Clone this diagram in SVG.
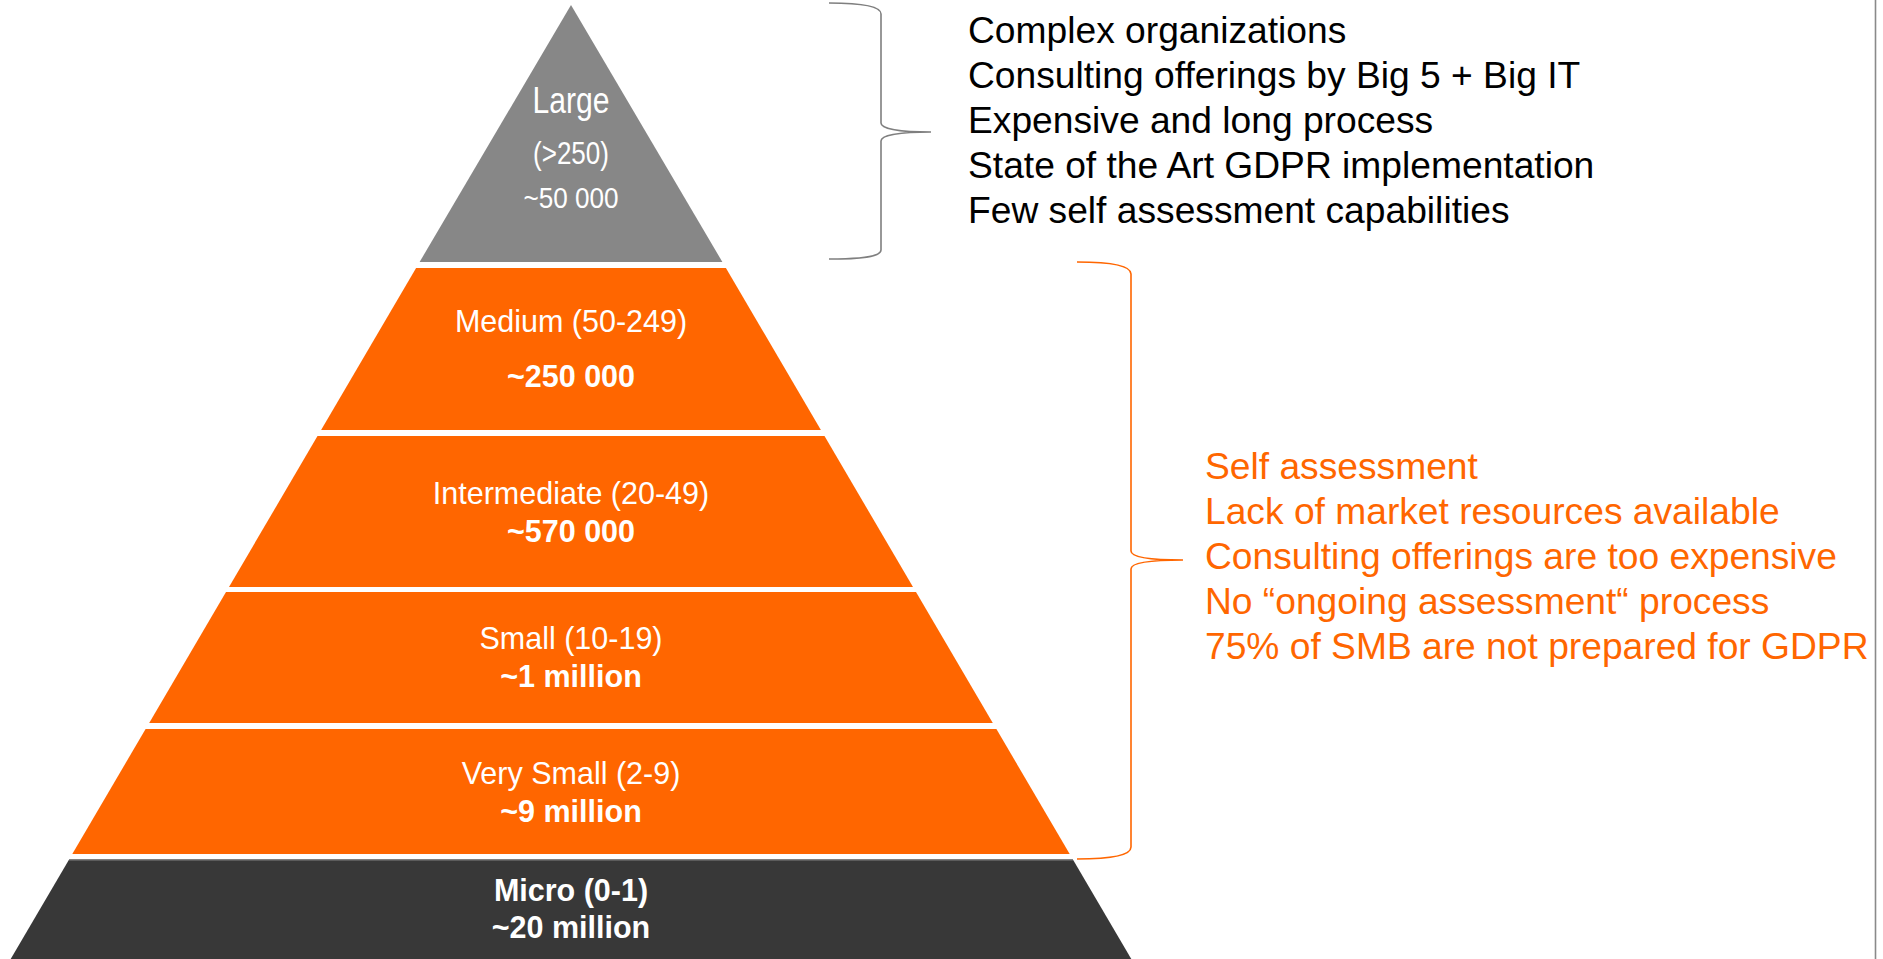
<svg xmlns="http://www.w3.org/2000/svg" width="1883" height="959" viewBox="0 0 1883 959">
<style>
  .lbl { font-family: "Liberation Sans", Arial, sans-serif; fill: #ffffff; text-anchor: middle; }
  .r { font-size: 30.5px; }
  .b { font-size: 30.5px; font-weight: bold; }
  .side { font-family: "Liberation Sans", Arial, sans-serif; font-size: 37.2px; }
  .blk { fill: #000000; }
  .org { fill: #ff6600; }
  .brace { fill: none; stroke-width: 1.6; }
</style>
<rect x="0" y="0" width="1883" height="959" fill="#ffffff"/>
<line x1="1875.5" y1="0" x2="1875.5" y2="959" stroke="#8a8a8a" stroke-width="1.6"/>

<g id="large">
  <polygon points="571,5 722.4,262 419.6,262" fill="#878787"/>
  <text class="lbl" x="571" y="113" font-size="36" textLength="77" lengthAdjust="spacingAndGlyphs">Large</text>
  <text class="lbl" x="571" y="164" font-size="31" textLength="76" lengthAdjust="spacingAndGlyphs">(&gt;250)</text>
  <text class="lbl" x="571" y="208" font-size="29" textLength="95" lengthAdjust="spacingAndGlyphs">~50 000</text>
</g>

<g id="medium">
  <polygon points="416.1,268 725.9,268 820.9,430 321.1,430" fill="#ff6600"/>
  <text class="lbl r" x="571" y="332">Medium (50-249)</text>
  <text class="lbl b" x="571" y="387">~250 000</text>
</g>

<g id="intermediate">
  <polygon points="317.5,436 824.5,436 913,587 229,587" fill="#ff6600"/>
  <text class="lbl r" x="571" y="504">Intermediate (20-49)</text>
  <text class="lbl b" x="571" y="542">~570 000</text>
</g>

<g id="small">
  <polygon points="226,592 916,592 992.8,723 149.2,723" fill="#ff6600"/>
  <text class="lbl r" x="571" y="649">Small (10-19)</text>
  <text class="lbl b" x="571" y="687">~1 million</text>
</g>

<g id="very-small">
  <polygon points="145.6,729 996.4,729 1069.7,854 72.3,854" fill="#ff6600"/>
  <text class="lbl r" x="571" y="784">Very Small (2-9)</text>
  <text class="lbl b" x="571" y="822">~9 million</text>
</g>

<g id="micro">
  <polygon points="69.1,859.5 1072.9,859.5 1131.3,959 10.7,959" fill="#383838"/>
  <line x1="69.1" y1="859.8" x2="1072.9" y2="859.8" stroke="#808080" stroke-width="1.5"/>
  <text class="lbl b" x="571" y="901">Micro (0-1)</text>
  <text class="lbl b" x="571" y="938">~20 million</text>
</g>

<g id="connectors">
  <path class="brace" stroke="#7f7f7f" d="M829,3 C860,3 881,6 881,14 L881,123 C881,129 900,132 931,132 C900,132 881,135 881,141 L881,250 C881,257 860,259 829,259"/>
  <path class="brace" stroke="#ff6600" d="M1077,262 C1110,262 1131,265 1131,274 L1131,551 C1131,557 1150,560 1183,560 C1150,560 1131,563 1131,569 L1131,847 C1131,856 1110,859 1077,859"/>
</g>

<g id="large-notes">
  <text class="side blk" x="968" y="43.3">Complex organizations</text>
  <text class="side blk" x="968" y="88.3">Consulting offerings by Big 5 + Big IT</text>
  <text class="side blk" x="968" y="133.3">Expensive and long process</text>
  <text class="side blk" x="968" y="178.3">State of the Art GDPR implementation</text>
  <text class="side blk" x="968" y="223.3">Few self assessment capabilities</text>
</g>

<g id="smb-notes">
  <text class="side org" x="1205" y="479.3">Self assessment</text>
  <text class="side org" x="1205" y="524.3">Lack of market resources available</text>
  <text class="side org" x="1205" y="569.3">Consulting offerings are too expensive</text>
  <text class="side org" x="1205" y="614.3">No “ongoing assessment“ process</text>
  <text class="side org" x="1205" y="659.3">75% of SMB are not prepared for GDPR</text>
</g>
</svg>
